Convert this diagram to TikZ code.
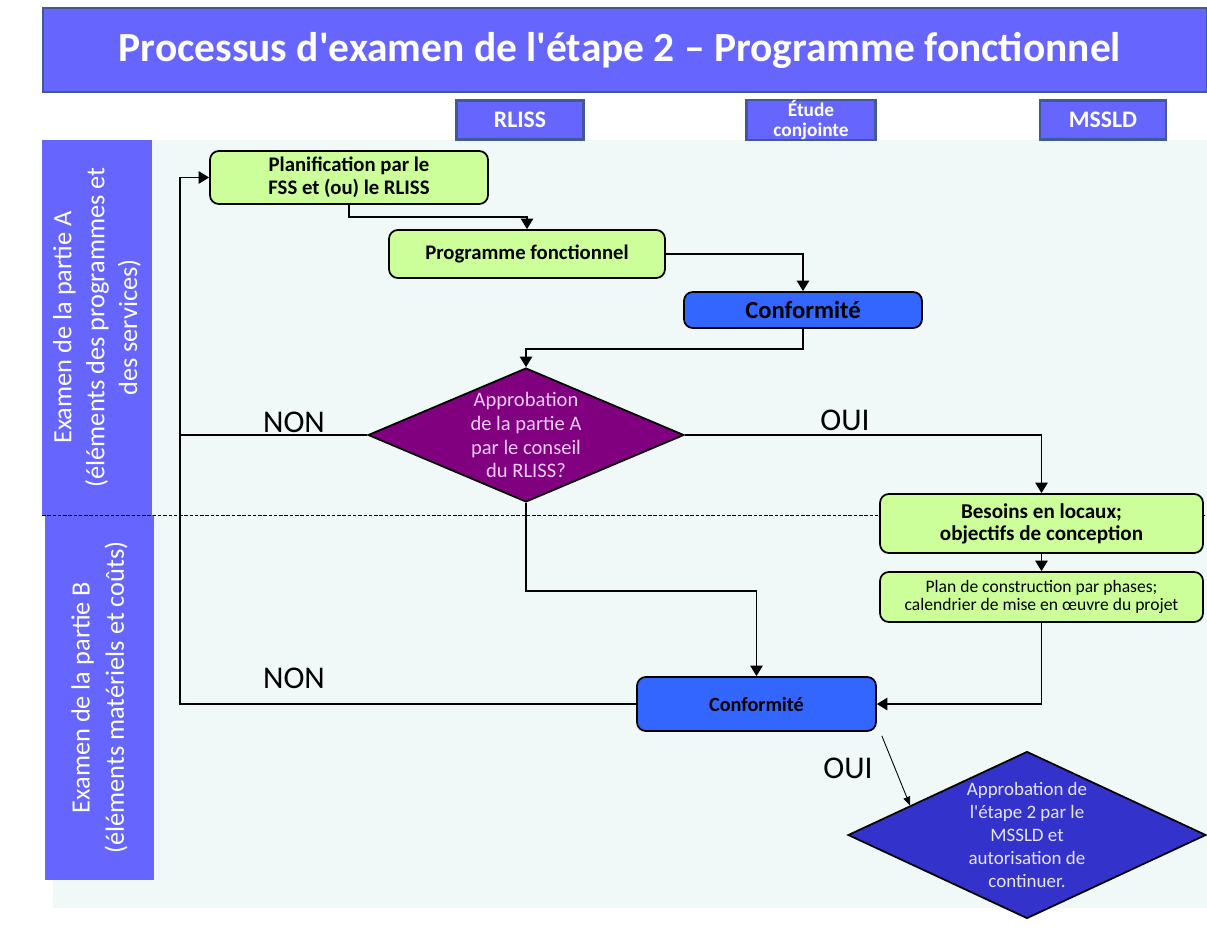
\documentclass[tikz,border=0pt]{standalone}
\usepackage{fontspec}
\setmainfont{Carlito}
\usetikzlibrary{positioning,shapes.geometric,arrows.meta,calc}
\definecolor{titleblue}{RGB}{102,102,255}
\definecolor{edgeblue}{RGB}{65,90,150}
\definecolor{bgpale}{RGB}{240,248,248}
\definecolor{boxgreen}{RGB}{204,255,153}
\definecolor{confblue}{RGB}{51,102,255}
\definecolor{decpurple}{RGB}{128,0,128}
\definecolor{decblue}{RGB}{51,51,204}
\definecolor{textlilac}{RGB}{240,205,245}
\definecolor{textpale}{RGB}{228,228,255}

\begin{document}
\begin{tikzpicture}[x=0.02cm,y=-0.02cm,
    head/.style={draw=edgeblue, line width=1.2pt, fill=titleblue, text=white, align=center, inner sep=0pt},
    lane/.style={fill=titleblue, text=white, rotate=90, align=center, inner sep=0pt},
    stepbox/.style={draw, line width=1pt, rounded corners=5pt, fill=boxgreen, align=center, inner sep=0pt},
    confbox/.style={stepbox, fill=confblue},
    decision/.style={diamond, draw, line width=1pt, align=center},
    conn/.style={->, >={Triangle[length=6pt,width=7pt]}, line width=1.1pt},
    lbl/.style={font=\fontsize{18}{20}\selectfont}]
    \useasboundingbox (0,0) rectangle (1207,930);
    % background of the lanes
    \fill[bgpale] (53,140) rectangle (1207,908);

    % title and column heads
    \node[head, minimum width=23.28cm, minimum height=1.68cm] (title) at (625,50) {};
    \node[text=white, font=\bfseries\fontsize{23.6}{28}\selectfont] (titletext) at (620,50) {Processus d\textquotesingle examen de l\textquotesingle étape 2 – Programme fonctionnel};
    \node[head, minimum width=2.54cm, minimum height=0.78cm, font=\bfseries\fontsize{13.5}{15}\selectfont] (rliss) at (520,120) {RLISS};
    \node[head, minimum width=2.58cm, minimum height=0.78cm, font=\bfseries\fontsize{11}{11.5}\selectfont] (etude) at (811,120) {Étude\\conjointe};
    \node[head, minimum width=2.52cm, minimum height=0.78cm, font=\bfseries\fontsize{13.5}{15}\selectfont] (mssld) at (1103,120) {MSSLD};

    % lanes
    \node[lane, minimum width=7.5cm, minimum height=2.2cm, font=\fontsize{15}{18.7}\selectfont] (laneA) at (97,327.5) {Examen de la partie A\\(éléments des programmes et\\des services)};
    \node[lane, minimum width=7.3cm, minimum height=2.18cm, font=\fontsize{15}{19.5}\selectfont] (laneB) at (99.5,697.5) {Examen de la partie B\\(éléments matériels et coûts)};
    \draw[dashed, dash pattern=on 2pt off 1pt, line width=0.4pt] (42,515) -- (1207,515);

    % steps
    \node[stepbox, minimum width=5.56cm, minimum height=1.06cm, font=\bfseries\fontsize{11.8}{13}\selectfont] (plan) at (349,177.5) {Planification par le\\FSS et (ou) le RLISS};
    \node[stepbox, minimum width=5.52cm, minimum height=0.96cm, font=\bfseries\fontsize{11.8}{13}\selectfont] (prog) at (527,254) {Programme fonctionnel};
    \node[confbox, minimum width=4.76cm, minimum height=0.72cm, font=\bfseries\fontsize{14}{16}\selectfont] (conf1) at (803,310) {Conformité};
    \node[decision, fill=decpurple, text=textlilac, inner xsep=-33pt, inner ysep=-28pt, minimum width=6.32cm, minimum height=2.68cm, font=\fontsize{11.7}{13.6}\selectfont] (appA) at (526,435) {Approbation\\de la partie A\\par le conseil\\du RLISS?};
    \node[stepbox, minimum width=6.46cm, minimum height=1.18cm, font=\bfseries\fontsize{12}{12.4}\selectfont] (besoins) at (1041.5,523.5) {Besoins en locaux;\\objectifs de conception};
    \node[stepbox, minimum width=6.46cm, minimum height=1.0cm, font=\fontsize{10}{10.4}\selectfont] (phases) at (1041.5,597) {Plan de construction par phases;\\calendrier de mise en œuvre du projet};
    \node[confbox, minimum width=4.78cm, minimum height=1.08cm, font=\bfseries\fontsize{11.5}{13}\selectfont] (conf2) at (756.5,704) {Conformité};
    \node[decision, fill=decblue, text=textpale, inner xsep=-36pt, inner ysep=-33pt, minimum width=7.16cm, minimum height=3.34cm, font=\fontsize{10.8}{13}\selectfont] (appB) at (1027,835) {Approbation de\\l\textquotesingle étape 2 par le\\MSSLD et\\autorisation de\\continuer.};

    % answers
    \node[lbl] (nonA) at (294,422) {NON};
    \node[lbl] (ouiA) at (845,420) {OUI};
    \node[lbl] (nonB) at (294,678) {NON};
    \node[lbl] (ouiB) at (848,768) {OUI};

    % connectors
    \coordinate (back) at (180,177.5);
    \draw[conn] (plan.south) -- ++(0,12) -| (prog.north);
    \draw[conn] (prog.east) -| (conf1.north);
    \draw[conn] (conf1.south) -- ++(0,20) -| (appA.north);
    \draw[conn] (appA.west) -| (back) -- (plan.west);
    \draw[line width=1.1pt] (conf2.west) -| (back);
    \draw[conn] (appA.east) -| (besoins.north);
    \draw[conn] (appA.south) -- ++(0,88) -| (conf2.north);
    \draw[conn] (besoins.south) -- (phases.north);
    \draw[conn] (phases.south) |- (conf2.east);
    \draw[->, >={Triangle[length=5pt,width=4pt]}, line width=0.5pt] ([shift={(5,4)}]conf2.south east) -- ($(appB.west)!0.35!(appB.north)$);
\end{tikzpicture}
\end{document}
